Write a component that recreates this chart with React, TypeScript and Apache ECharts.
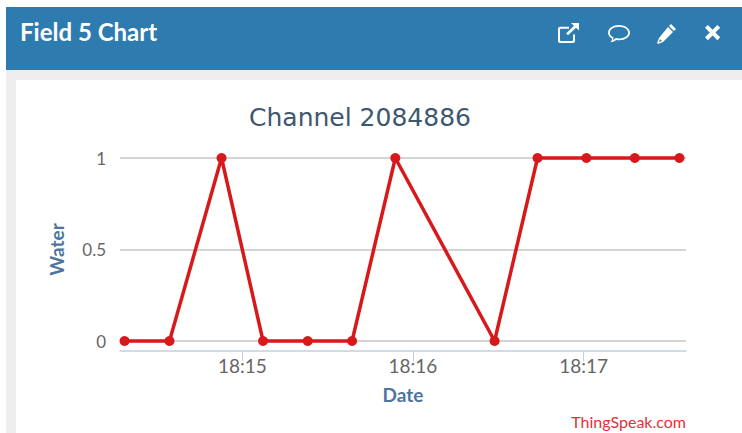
import React, { useEffect, useRef } from "react";
import * as echarts from "echarts";

const pointTimes = ["18:14:18.6","18:14:34.4","18:14:52.7","18:15:07.3","18:15:23","18:15:38.6","18:15:53.8","18:16:28.7","18:16:43.8","18:17:01","18:17:18","18:17:33.7"];
const waterValues = [0,0,1,0,0,0,1,0,1,1,1,1];
const xTickTimes = ["18:15:00","18:16:00","18:17:00"];
const axisStart = "18:14:17";
const axisEnd = "18:17:36";

const toMs = (t: string) => {
  const [h,m,s] = t.split(":").map(Number);
  return Date.UTC(2023,3,1,h,m,0) + s * 1000;
};

const FONT = "Lato, 'Open Sans', sans-serif";
const TITLE_FONT = "'DejaVu Sans', sans-serif";

echarts.graphic.registerShape("icoExt", echarts.graphic.extendPath("M3 4h9v2H4a1 1 0 0 0-1 1v11a1 1 0 0 0 1 1h11a1 1 0 0 0 1-1v-6h2v7a2 2 0 0 1-2 2H3a2 2 0 0 1-2-2V6a2 2 0 0 1 2-2zM14 0h8v8l-3-3-8 8-2-2 8-8z", {}));
echarts.graphic.registerShape("icoChat", echarts.graphic.extendPath("M11 0C5 0 0 3.4 0 7.7c0 2.5 1.6 4.6 4.2 6-.2 1.3-.9 2.6-1.7 3.5 2.3-.2 4.4-1.1 5.8-2.3.9.2 1.8.3 2.7.3 6 0 11-3.4 11-7.5S17 0 11 0zm0 1.7c5.2 0 9.2 2.8 9.2 6s-4 5.8-9.2 5.8c-1 0-2-.1-3.2-.4-.8.9-1.8 1.5-2.9 1.9.4-.8.6-1.6.7-2.5C3.300 11.300 1.800 9.700 1.800 7.700c0-3.200 4-6 9.200-6z", {}));
echarts.graphic.registerShape("icoPen", echarts.graphic.extendPath("M14 0l5 5-2 2-5-5zM11 3l5 5L6 18l-5 2-1-1 2-5zM3 15l-1 3 3-1z", {}));
echarts.graphic.registerShape("icoX", echarts.graphic.extendPath("M3 0l5 5 5-5 3 3-5 5 5 5-3 3-5-5-5 5-3-3 5-5-5-5z", {}));

export default function App() {
  const ref = useRef<HTMLDivElement>(null);
  useEffect(() => {
    document.body.style.margin = "0";
    const chart = echarts.init(ref.current!, undefined, { renderer: "svg" });
    chart.setOption({
      animation: false,
      backgroundColor: "#ffffff",
      title: {
        text: "Channel 2084886",
        left: 355, top: 100, textAlign: "center",
        textStyle: { color: "#3e576f", fontFamily: TITLE_FONT, fontSize: 25, fontWeight: "normal" },
      },
      grid: { left: 120, right: 56, top: 158, bottom: 92 },
      xAxis: {
        type: "value",
        scale: true,
        min: toMs(axisStart), max: toMs(axisEnd),
        offset: 10,
        name: "Date", nameLocation: "middle", nameGap: 34,
        nameTextStyle: { color: "#4d759e", fontFamily: FONT, fontSize: 19, fontWeight: "bold" },
        axisLine: { show: true, onZero: false, lineStyle: { color: "#c0d0e0", width: 1.5 } },
        axisTick: { show: true, length: 10, lineStyle: { color: "#c0d0e0" }, customValues: xTickTimes.map(toMs) },
        axisLabel: {
          color: "#666666", fontFamily: FONT, fontSize: 19, margin: 5,
          customValues: xTickTimes.map(toMs),
          formatter: (v: number) => {
            const d = new Date(v);
            return `${String(d.getUTCHours()).padStart(2,"0")}:${String(d.getUTCMinutes()).padStart(2,"0")}`;
          },
        },
        splitLine: { show: false },
      },
      yAxis: {
        type: "value", min: 0, max: 1, interval: 0.5,
        name: "Water", nameLocation: "middle", nameGap: 54, nameRotate: 90,
        nameTextStyle: { color: "#4d759e", fontFamily: FONT, fontSize: 19, fontWeight: "bold" },
        axisLine: { show: false }, axisTick: { show: false },
        axisLabel: { color: "#666666", fontFamily: FONT, fontSize: 17, margin: 14 },
        splitLine: { show: true, lineStyle: { color: "#c6c6c6", width: 1.5 } },
      },
      series: [{
        type: "line",
        data: pointTimes.map((t,i) => [toMs(t), waterValues[i]]),
        clip: false,
        symbol: "circle", symbolSize: 10,
        lineStyle: { color: "#d7191c", width: 3.5 },
        itemStyle: { color: "#d7191c" },
      }],
      graphic: [
        { type: "rect", z: -10, shape: { x: 6, y: 70, width: 736, height: 363 }, style: { fill: "#eeeeee" } },
        { type: "rect", z: -9, shape: { x: 16, y: 80, width: 726, height: 353 }, style: { fill: "#ffffff" } },
        { type: "rect", z: -8, shape: { x: 6, y: 7, width: 736, height: 63 }, style: { fill: "#2e7bb0" } },
        { type: "text", x: 20, y: 19, style: { text: "Field 5 Chart", fill: "#ffffff", font: `bold 24px ${FONT}` } },
        { type: "icoExt", x: 557, y: 23, scaleX: 1, scaleY: 0.95, style: { fill: "#ffffff" } },
        { type: "icoChat", x: 608, y: 25, scaleX: 1, scaleY: 1, style: { fill: "#ffffff" } },
        { type: "icoPen", x: 657, y: 24, scaleX: 1, scaleY: 1, style: { fill: "#ffffff" } },
        { type: "icoX", x: 705, y: 25, scaleX: 0.95, scaleY: 0.95, style: { fill: "#ffffff" } },
        { type: "text", x: 686, y: 413, style: { text: "ThingSpeak.com", fill: "#e2303a", align: "right", font: `16px ${FONT}` } },
      ],
    });
    return () => chart.dispose();
  }, []);
  return <div ref={ref} style={{ width: 742, height: 433 }} />;
}
